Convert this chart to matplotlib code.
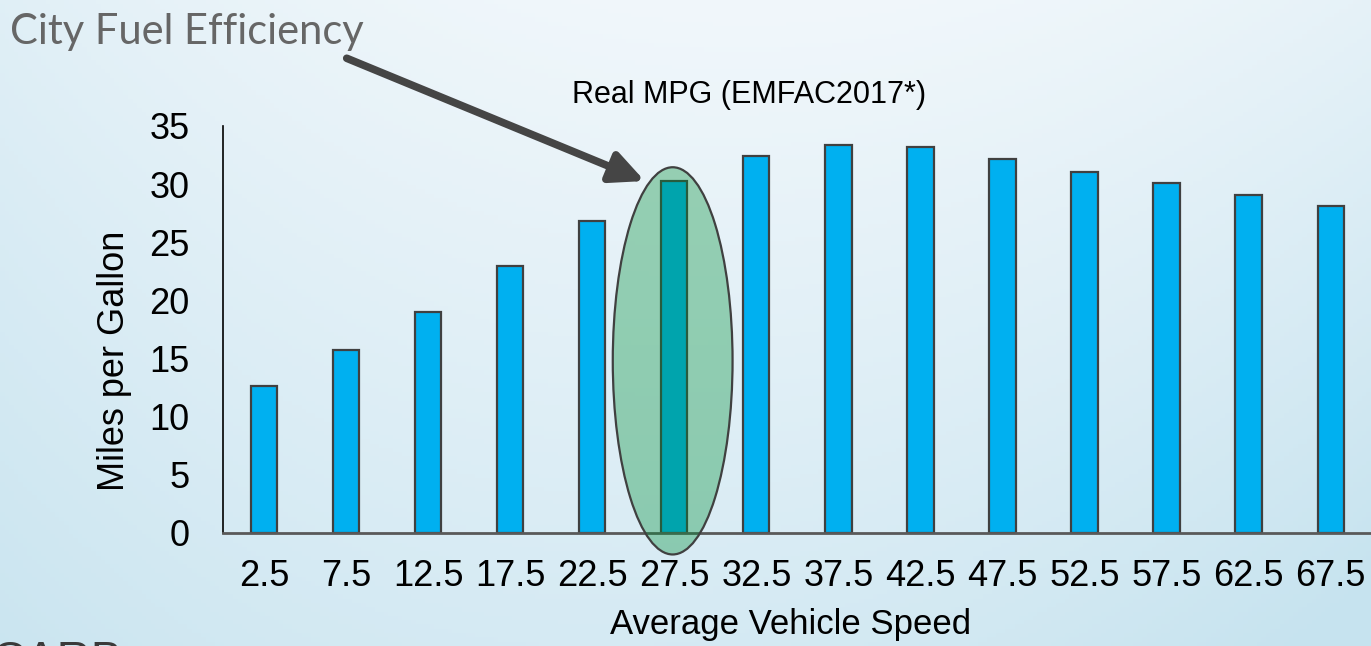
import numpy as np
import matplotlib
matplotlib.use('Agg')
from matplotlib import pyplot as plt
from matplotlib.patches import Ellipse

# average speed bins (mph) and real-world MPG from EMFAC2017
speeds = ['2.5', '7.5', '12.5', '17.5', '22.5', '27.5', '32.5',
          '37.5', '42.5', '47.5', '52.5', '57.5', '62.5', '67.5']
mpg = [12.6, 15.7, 19.0, 23.0, 26.8, 30.3, 32.4,
       33.4, 33.2, 32.2, 31.0, 30.1, 29.1, 28.1]
highlight = '27.5'
y_ticks = [0, 5, 10, 15, 20, 25, 30, 35]

plt.rcParams['font.family'] = ['Liberation Sans', 'DejaVu Sans']

fig = plt.figure(figsize=(13.71, 6.46), dpi=100)

# slide background: pale blue, a bit deeper towards the lower corners
bg = fig.add_axes([0, 0, 1, 1], zorder=-10)
gx, gy = np.meshgrid(np.linspace(0, 1, 300), np.linspace(0, 1, 150))
light = np.array([241, 247, 251]) / 255
deep = np.array([198, 227, 239]) / 255
w = np.clip(0.5 * gy + 1.3 * (gx - 0.55) ** 2 + 0.3 * gy * gx, 0, 1)
img = light[None, None, :] * (1 - w[..., None]) + deep[None, None, :] * w[..., None]
bg.imshow(img, extent=[0, 1, 0, 1], aspect='auto', origin='upper')
bg.axis('off')

ax = fig.add_axes([0.1627, 0.175, 0.8378, 0.63])
ax.patch.set_alpha(0)
x = np.arange(len(speeds))
ax.bar(x, mpg, width=0.32, color='#00B0F0', edgecolor='#404040', linewidth=1.6, zorder=2)

ax.set_xlim(-0.5, len(speeds) - 0.5)
ax.set_ylim(0, 35)
ax.set_yticks(y_ticks)
ax.set_xticks(x)
ax.set_xticklabels(speeds)
ax.tick_params(length=0, labelsize=26, colors='black')
ax.tick_params(axis='y', pad=24)
ax.tick_params(axis='x', pad=19)
for side in ['top', 'right']:
    ax.spines[side].set_visible(False)
ax.spines['left'].set_color('black')
ax.spines['left'].set_linewidth(1.2)
ax.spines['bottom'].set_color('#595959')
ax.spines['bottom'].set_linewidth(2)

ax.set_xlabel('Average Vehicle Speed', fontsize=25, ha='left')
ax.xaxis.set_label_coords(0.337, -0.185)
ax.set_ylabel('Miles per Gallon', fontsize=26)
ax.yaxis.set_label_coords(-0.079, 0.423)

# circle the 27.5 mph bin
hi = speeds.index(highlight)
cx, cy = hi - 0.02, 14.8
ew, eh = 1.46, 33.3
ell = Ellipse((cx, cy), ew, eh, facecolor=(0.0, 0.56, 0.22, 0.36),
              edgecolor='#404040', linewidth=1.6, clip_on=False, zorder=3)
ax.add_patch(ell)

t = np.deg2rad(116)
tip = (cx + ew / 2 * np.cos(t) - 0.02, cy + eh / 2 * np.sin(t) + 0.5)
ax.annotate('', xy=tip, xycoords='data',
            xytext=(0.2529, 0.9098), textcoords='figure fraction',
            arrowprops=dict(arrowstyle='-|>,head_length=2.0,head_width=0.95',
                            color='#454545', lw=5.5, shrinkA=0, shrinkB=0),
            zorder=4, annotation_clip=False)

fig.text(0.417, 0.853, 'Real MPG (EMFAC2017*)', fontsize=22, ha='left', va='center')
fig.text(0.007, 0.95, 'City Fuel Efficiency', fontsize=30, color='#666666',
         family=['Lato', 'Open Sans', 'DejaVu Sans'],
         ha='left', va='center')
fig.text(-0.006, -0.043, 'CARB', fontsize=34, color='#3a3a3a', ha='left', va='baseline')

fig.savefig('out.png', dpi=100)
